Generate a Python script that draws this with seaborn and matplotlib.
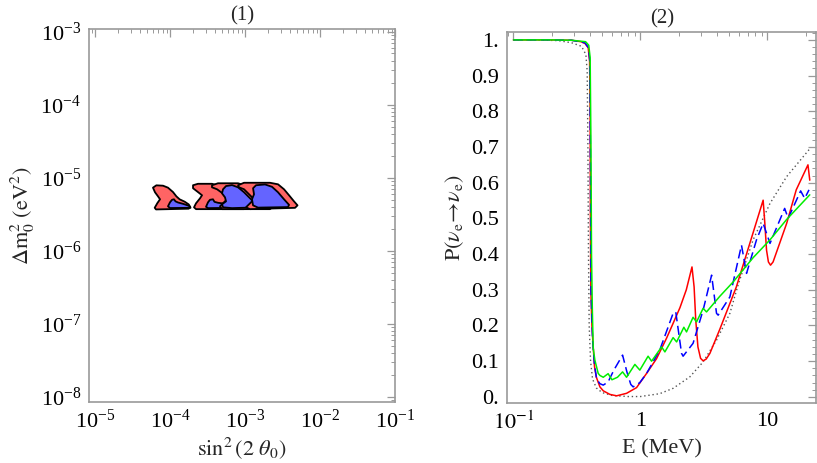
import numpy as np
import pandas as pd
import matplotlib
matplotlib.use("Agg")
import matplotlib.pyplot as plt
import matplotlib.ticker as mticker
import seaborn as sns

# ---- panel (1): allowed regions, vertices as (log10 sin^2 2theta, log10 dm^2) ----
red1_x = [-4.227, -4.182, -4.093, -4.027, -3.96, -3.915, -3.871, -3.804, -3.751, -3.729, -3.751, -4.187, -4.204, -4.169, -4.133, -4.16, -4.2]
red1_y = [-5.137, -5.105, -5.11, -5.137, -5.197, -5.256, -5.297, -5.329, -5.366, -5.403, -5.425, -5.435, -5.412, -5.349, -5.296, -5.256, -5.2]
blue1_x = [-4.027, -4.0, -3.973, -3.947, -3.927, -3.893, -3.827, -3.747, -3.727, -4.0]
blue1_y = [-5.392, -5.337, -5.303, -5.296, -5.324, -5.34, -5.358, -5.385, -5.413, -5.416]

redA_x = [-3.693, -3.627, -3.44, -3.333, -3.227, -3.12, -3.04, -2.987, -3.013, -3.653, -3.68, -3.653, -3.6, -3.573, -3.64, -3.693]
redA_y = [-5.104, -5.084, -5.084, -5.118, -5.2, -5.296, -5.372, -5.413, -5.431, -5.431, -5.406, -5.351, -5.283, -5.241, -5.187, -5.145]
blueA_x = [-3.52, -3.493, -3.467, -3.427, -3.407, -3.36, -3.253, -3.173, -3.147, -3.493]
blueA_y = [-5.399, -5.337, -5.303, -5.296, -5.331, -5.344, -5.358, -5.385, -5.413, -5.417]

redB_x = [-3.44, -3.36, -3.093, -2.987, -2.88, -2.773, -2.693, -2.64, -2.667, -3.307, -3.333, -3.28, -3.227, -3.28, -3.373, -3.44]
redB_y = [-5.104, -5.077, -5.077, -5.111, -5.187, -5.283, -5.358, -5.406, -5.431, -5.431, -5.392, -5.337, -5.283, -5.228, -5.159, -5.132]
blueB_x = [-3.293, -3.253, -3.173, -3.093, -3.013, -2.92, -2.853, -2.827, -3.173, -3.293, -3.307, -3.253, -3.267, -3.307]
blueB_y = [-5.159, -5.115, -5.102, -5.132, -5.2, -5.296, -5.365, -5.406, -5.417, -5.406, -5.365, -5.324, -5.269, -5.214]

redC_x = [-3.093, -3.013, -2.667, -2.56, -2.48, -2.413, -2.347, -2.3, -2.333, -2.933, -2.987, -2.933, -2.88, -2.933, -3.013, -3.08]
redC_y = [-5.104, -5.07, -5.07, -5.091, -5.159, -5.241, -5.324, -5.379, -5.413, -5.431, -5.406, -5.351, -5.296, -5.241, -5.159, -5.132]
blueC_x = [-2.893, -2.853, -2.733, -2.64, -2.56, -2.48, -2.413, -2.427, -2.827, -2.893, -2.907, -2.88]
blueC_y = [-5.145, -5.104, -5.093, -5.125, -5.2, -5.296, -5.372, -5.403, -5.41, -5.379, -5.296, -5.228]

# ---- panel (2): survival probability vs energy ----
red_E = [0.1, 0.2, 0.287, 0.34, 0.366, 0.388, 0.398, 0.402, 0.404, 0.407, 0.415, 0.425, 0.435, 0.45, 0.48, 0.51,
         0.575, 0.65, 0.778, 0.933, 1.12, 1.34, 1.61, 1.81, 2.05, 2.3, 2.55, 2.65, 2.73, 2.84, 2.98, 3.12, 3.3,
         3.53, 4.23, 5.7, 7.73, 9.27, 9.56, 9.86, 10.2, 10.6, 11.1, 12.5, 14.2, 16.9, 20.9, 21.6]
red_P = [1.0, 1.0, 0.999, 0.995, 0.99, 0.978, 0.94, 0.8, 0.5, 0.3, 0.2, 0.14, 0.085, 0.055, 0.028, 0.017,
         0.007, 0.003, 0.01, 0.026, 0.066, 0.107, 0.165, 0.206, 0.25, 0.3, 0.364, 0.308, 0.215, 0.14, 0.108, 0.101, 0.106,
         0.122, 0.19, 0.308, 0.46, 0.551, 0.486, 0.411, 0.378, 0.369, 0.378, 0.43, 0.486, 0.58, 0.65, 0.607]

blue_E = [0.1, 0.2, 0.287, 0.366, 0.39, 0.4, 0.405, 0.408, 0.42, 0.435, 0.452, 0.48, 0.51, 0.557, 0.618, 0.724,
          0.783, 0.84, 0.877, 0.99, 1.12, 1.42, 1.81, 1.9, 2.11, 2.17, 2.6, 3.12, 3.64, 3.98, 4.1, 5.07, 6.26,
          6.86, 8.22, 9.27, 10.5, 13.7, 14.6, 18.3, 19.7, 21.3]
blue_P = [1.0, 1.0, 0.999, 0.992, 0.978, 0.94, 0.6, 0.3, 0.16, 0.09, 0.05, 0.037, 0.033, 0.042, 0.075, 0.117,
          0.07, 0.035, 0.028, 0.04, 0.066, 0.131, 0.234, 0.238, 0.122, 0.114, 0.15, 0.243, 0.341, 0.234, 0.229, 0.28, 0.425,
          0.346, 0.44, 0.486, 0.43, 0.528, 0.5, 0.577, 0.556, 0.58]

green_E = [0.1, 0.2, 0.287, 0.37, 0.392, 0.402, 0.408, 0.412, 0.418, 0.425, 0.438, 0.465, 0.48, 0.51, 0.557, 0.597,
           0.66, 0.724, 0.778, 0.905, 0.99, 1.15, 1.225, 1.47, 1.56, 1.81, 1.93, 2.2, 2.31, 2.6, 2.77, 3.12, 3.32,
           4.23, 5.38, 7.73, 10.5, 14.2, 21.6]
green_P = [1.0, 1.0, 0.999, 0.995, 0.985, 0.95, 0.7, 0.4, 0.25, 0.136, 0.103, 0.066, 0.06, 0.055, 0.065, 0.048,
           0.055, 0.07, 0.055, 0.091, 0.075, 0.114, 0.1, 0.14, 0.126, 0.166, 0.154, 0.195, 0.182, 0.223, 0.21, 0.248, 0.238,
           0.282, 0.322, 0.39, 0.44, 0.497, 0.566]

dot_E = [0.1, 0.15, 0.225, 0.287, 0.344, 0.372, 0.381, 0.386, 0.39, 0.395, 0.405, 0.42, 0.45, 0.5, 0.6, 0.8, 1.0,
         1.42, 1.81, 2.45, 3.12, 3.98, 5.07, 5.9, 7.73, 10.5, 14.2, 21.6]
dot_P = [1.0, 1.0, 0.998, 0.992, 0.982, 0.959, 0.912, 0.7, 0.4, 0.2, 0.1, 0.05, 0.025, 0.012, 0.004, 0.001, 0.001,
         0.009, 0.024, 0.056, 0.098, 0.159, 0.234, 0.315, 0.44, 0.542, 0.617, 0.695]

sns.set_theme(style="white")
plt.rcParams["font.family"] = ["Liberation Serif", "DejaVu Serif"]
plt.rcParams["mathtext.fontset"] = "stix"

RED = "#ff6464"
BLUE = "#6464ff"
FRAME = "#999999"
TICK_FS = 16
LABEL_FS = 16

fig = plt.figure(figsize=(8.17, 4.63), dpi=100)
ax1 = fig.add_axes([0.1093, 0.1324, 0.3742, 0.8043])
ax2 = fig.add_axes([0.6209, 0.1289, 0.3782, 0.8019])


def style_axes(ax):
    for s in ax.spines.values():
        s.set_color(FRAME)
        s.set_linewidth(1.2)
    ax.tick_params(which="both", direction="in", top=True, right=True, color=FRAME,
                   labelsize=TICK_FS, labelcolor="black", pad=6)
    ax.tick_params(which="major", length=6, width=0.9)
    ax.tick_params(which="minor", length=3, width=0.7)


# panel 1
ax1.set_xscale("log")
ax1.set_yscale("log")
shapes = [(red1_x, red1_y, RED), (blue1_x, blue1_y, BLUE),
          (redA_x, redA_y, RED), (blueA_x, blueA_y, BLUE),
          (redB_x, redB_y, RED), (blueB_x, blueB_y, BLUE),
          (redC_x, redC_y, RED), (blueC_x, blueC_y, BLUE)]
for xs, ys, col in shapes:
    ax1.fill(10 ** np.array(xs), 10 ** np.array(ys), facecolor=col, edgecolor="black",
             linewidth=1.3, joinstyle="round")
ax1.set_xlim(10 ** -5.076, 10 ** -1)
ax1.set_ylim(10 ** -8.066, 10 ** -2.97)
ax1.xaxis.set_major_locator(mticker.LogLocator(base=10, numticks=10))
ax1.xaxis.set_minor_locator(mticker.LogLocator(base=10, subs=np.arange(2, 10), numticks=10))
ax1.yaxis.set_major_locator(mticker.LogLocator(base=10, numticks=10))
ax1.yaxis.set_minor_locator(mticker.LogLocator(base=10, subs=np.arange(2, 10), numticks=10))
ax1.xaxis.set_minor_formatter(mticker.NullFormatter())
ax1.yaxis.set_minor_formatter(mticker.NullFormatter())
style_axes(ax1)
ax1.set_title("(1)", fontsize=15, pad=6)
ax1.set_xlabel(r"$\mathrm{sin}^2\,(2\ \theta_0)$", fontsize=LABEL_FS, labelpad=1)
ax1.set_ylabel(r"$\Delta\mathrm{m}_0^2\ (\mathrm{eV}^2)$", fontsize=LABEL_FS, labelpad=2)

# panel 2
ax2.set_xscale("log")
curves = pd.concat([
    pd.DataFrame({"E": red_E, "P": red_P, "model": "red"}),
    pd.DataFrame({"E": blue_E, "P": blue_P, "model": "blue"}),
    pd.DataFrame({"E": green_E, "P": green_P, "model": "green"}),
    pd.DataFrame({"E": dot_E, "P": dot_P, "model": "dot"}),
])
palette = {"red": "#ff0000", "blue": "#0000ff", "green": "#00ee00", "dot": "#555555"}
dashes = {"red": "", "blue": (6, 3), "green": "", "dot": (1, 2)}
sns.lineplot(data=curves[curves.model == "dot"], x="E", y="P", hue="model", style="model",
             palette=palette, dashes=dashes, sort=False, estimator=None, lw=1.0, legend=False, ax=ax2)
sns.lineplot(data=curves[curves.model.isin(["blue", "green", "red"])], x="E", y="P", hue="model",
             style="model", palette=palette, dashes=dashes, sort=False, estimator=None, lw=1.1,
             legend=False, ax=ax2)
ax2.set_xlim(0.0894, 24.3)
ax2.set_ylim(-0.018, 1.022)
ax2.xaxis.set_major_locator(mticker.FixedLocator([0.1, 1, 10]))
ax2.xaxis.set_major_formatter(mticker.FixedFormatter([r"$10^{-1}$", "1", "10"]))
ax2.xaxis.set_minor_locator(mticker.LogLocator(base=10, subs=np.arange(2, 10), numticks=10))
ax2.xaxis.set_minor_formatter(mticker.NullFormatter())
yt = np.round(np.arange(0, 1.01, 0.1), 1)
ax2.yaxis.set_major_locator(mticker.FixedLocator(yt))
ax2.yaxis.set_major_formatter(mticker.FixedFormatter(["0."] + [f"{v:.1f}" for v in yt[1:-1]] + ["1."]))
ax2.yaxis.set_minor_locator(mticker.MultipleLocator(0.02))
style_axes(ax2)
ax2.set_title("(2)", fontsize=15, pad=6)
ax2.set_xlabel("E (MeV)", fontsize=LABEL_FS, labelpad=4)
ax2.set_ylabel(r"$\mathrm{P}(\nu_\mathrm{e}\!\rightarrow\!\nu_\mathrm{e})$", fontsize=LABEL_FS, labelpad=4)

fig.savefig("out.png", dpi=100)
